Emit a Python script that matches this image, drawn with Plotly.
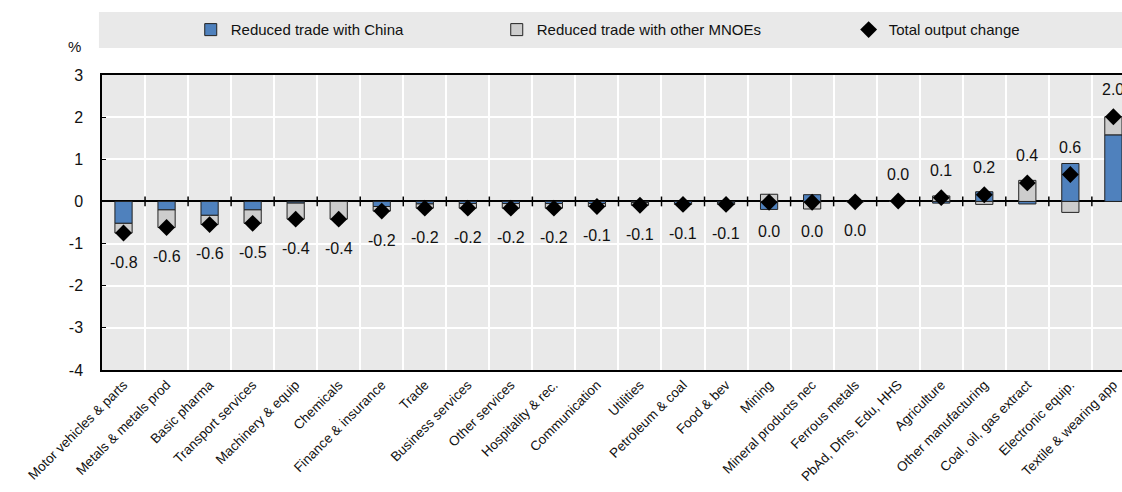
import plotly.graph_objects as go

# sectors, ordered as in the chart
sectors = ["Motor vehicles & parts", "Metals & metals prod", "Basic pharma", "Transport services",
           "Machinery & equip", "Chemicals", "Finance & insurance", "Trade", "Business services",
           "Other services", "Hospitality & rec.", "Communication", "Utilities", "Petroleum & coal",
           "Food & bev", "Mining", "Mineral products nec", "Ferrous metals", "PbAd, Dfns, Edu, HHS",
           "Agriculture", "Other manufacturing", "Coal, oil, gas extract", "Electronic equip.",
           "Textile & wearing app"]

china = [-0.52, -0.20, -0.33, -0.20, -0.04, 0.00, -0.12, -0.06, -0.05, -0.05, -0.05, -0.05,
         -0.03, -0.05, -0.04, -0.19, 0.16, 0.00, 0.00, -0.04, 0.23, -0.06, 0.90, 1.58]
other = [-0.23, -0.42, -0.22, -0.32, -0.38, -0.42, -0.11, -0.10, -0.11, -0.11, -0.11, -0.07,
         -0.06, -0.02, -0.03, 0.17, -0.18, -0.01, 0.01, 0.13, -0.07, 0.50, -0.26, 0.43]
total = [-0.75, -0.62, -0.55, -0.52, -0.42, -0.42, -0.23, -0.16, -0.16, -0.16, -0.16, -0.12,
         -0.09, -0.07, -0.07, -0.02, -0.02, -0.01, 0.01, 0.09, 0.16, 0.44, 0.64, 2.01]

y_ticks = [-4, -3, -2, -1, 0, 1, 2, 3]

BLUE = "#4f81bd"
GREY = "#cdcdcd"
BG = "#e9e9e9"
FONT = "Liberation Sans, Arial, sans-serif"

x = list(range(len(sectors)))

fig = go.Figure()
fig.add_trace(go.Bar(x=x, y=china, name="Reduced trade with China", width=0.4,
                     marker=dict(color=BLUE, line=dict(color="#222222", width=1)), legend="legend"))
fig.add_trace(go.Bar(x=x, y=other, name="Reduced trade with other MNOEs", width=0.4,
                     marker=dict(color=GREY, line=dict(color="#222222", width=1)), legend="legend2"))
# little ticks sitting on the zero line between sectors
fig.add_trace(go.Scatter(x=[i + 0.5 for i in x[:-1]], y=[0] * (len(x) - 1), mode="markers",
                         marker=dict(symbol="line-ns-open", size=7, color="black",
                                     line=dict(color="black", width=1.5)),
                         hoverinfo="skip", showlegend=False))
fig.add_trace(go.Scatter(x=x, y=total, name="Total output change", mode="markers",
                         marker=dict(symbol="diamond", size=13, color="black"), legend="legend3"))

for i, t in enumerate(total):
    s = f"{t:.1f}"
    if s == "-0.0":
        s = "0.0"
    fig.add_annotation(x=i, y=t, text=s, showarrow=False, font=dict(size=16, color="#111111"),
                       yshift=27 if t >= 0 else -29)

# legend band
fig.add_shape(type="rect", xref="paper", yref="paper", x0=-0.003, x1=1.0, y0=1.0915, y1=1.2136,
              fillcolor=BG, line=dict(width=0), layer="below")
fig.add_annotation(xref="paper", yref="paper", x=-0.027, y=1.095, xanchor="center", yanchor="middle",
                   text="%", showarrow=False, font=dict(size=15, color="#111111"))

leg = dict(orientation="h", yanchor="middle", y=1.153, xanchor="left", bgcolor="rgba(0,0,0,0)",
           font=dict(size=15, color="#111111"), itemwidth=30)
fig.update_layout(
    barmode="relative",
    width=1122, height=492,
    margin=dict(l=102, r=0, t=75, b=122),
    paper_bgcolor="white", plot_bgcolor=BG,
    font=dict(family=FONT, color="#111111"),
    legend=dict(leg, x=0.087),
    legend2=dict(leg, x=0.387),
    legend3=dict(leg, x=0.732),
)
fig.update_xaxes(range=[-0.5, 23.2], tickmode="array", tickvals=x, ticktext=sectors, tickangle=-45,
                 tickfont=dict(size=13.5), showgrid=False, ticks="", zeroline=False,
                 showline=True, mirror=True, linecolor="black", linewidth=1.5,
                 minor=dict(tickvals=[i + 0.5 for i in x], showgrid=True, gridcolor="white", gridwidth=2, ticks=""))
fig.update_yaxes(range=[-4, 3], tickmode="array", tickvals=y_ticks, ticktext=[str(v) for v in y_ticks],
                 tickfont=dict(size=16), showgrid=True, gridcolor="white",
                 gridwidth=2, zeroline=True, zerolinecolor="black", zerolinewidth=1.5,
                 showline=True, linecolor="black", linewidth=1.5, ticks="inside", ticklen=4,
                 tickcolor="black", ticklabelstandoff=14)

fig.write_html("out.html", config={"displayModeBar": False},
               post_script="document.body.style.margin='0';document.body.style.overflow='hidden';")
